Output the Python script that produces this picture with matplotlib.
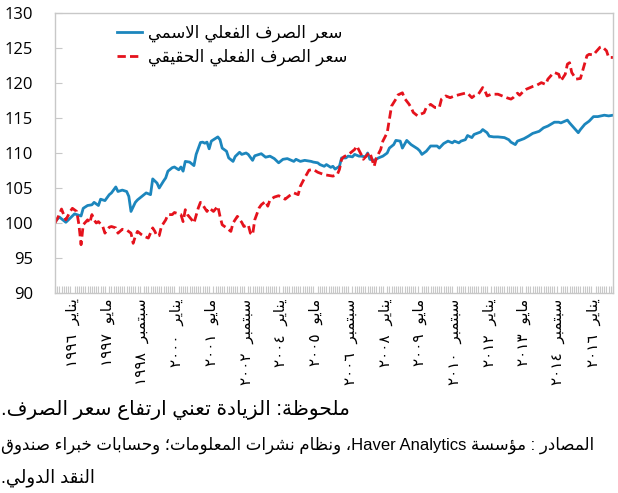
import matplotlib
matplotlib.use("Agg")
import matplotlib.pyplot as plt
from matplotlib.ticker import FixedLocator

# ---------------- data (month index since start of series) ----------------
nominal_months = [0, 2, 5, 7, 9, 12, 13, 15, 17, 18, 20, 21, 23, 25, 26, 28, 29, 31, 33, 34,
                  35, 37, 38, 41, 42, 44, 45, 47, 48, 50, 51, 52, 54, 55, 57, 58, 59, 60, 62, 64,
                  65, 67, 68, 69, 70, 71, 72, 73, 75, 76, 77, 79, 80, 82, 83, 85, 86, 88, 89, 91,
                  92, 94, 95, 97, 99, 101, 103, 105, 107, 110, 111, 113, 115, 118, 119, 121, 122, 124, 125, 127,
                  128, 129, 131, 132, 134, 135, 137, 138, 140, 141, 143, 144, 145, 147, 149, 151, 153, 154, 156, 157,
                  159, 160, 162, 164, 165, 167, 168, 169, 171, 173, 176, 177, 179, 181, 183, 184, 186, 187, 189, 190,
                  192, 193, 196, 197, 199, 200, 202, 204, 207, 209, 210, 212, 213, 216, 218, 220, 223, 225, 227, 230,
                  232, 233, 236, 237, 239, 241, 242, 244, 246, 248, 250, 253, 255, 257]
nominal_values = [100.2, 100.85, 100.1, 100.7, 101.3, 101.0, 102.1, 102.5, 102.6, 102.95, 102.5, 103.4, 103.2, 104.05, 104.3, 105.15, 104.5, 104.7, 104.5, 103.8,
                  101.65, 102.95, 103.3, 104.05, 104.3, 104.05, 106.3, 105.7, 105.0, 106.0, 106.45, 107.4, 107.9, 108.0, 107.6, 108.0, 107.4, 108.8, 108.7, 108.2,
                  109.8, 111.5, 111.55, 111.4, 111.55, 110.6, 111.7, 111.9, 112.3, 111.9, 110.7, 110.25, 109.3, 108.8, 109.5, 110.1, 109.8, 110.0, 109.8, 108.95,
                  109.6, 109.8, 109.9, 109.4, 109.55, 109.2, 108.6, 109.1, 109.2, 108.8, 109.1, 108.8, 108.95, 108.8, 108.7, 108.6, 108.35, 108.1, 108.35, 107.95,
                  108.1, 107.7, 108.1, 109.3, 109.3, 109.55, 109.45, 109.8, 109.55, 109.55, 109.45, 110.0, 109.1, 108.95, 109.3, 109.55, 110.0, 110.7, 111.2, 111.8,
                  111.7, 110.7, 111.8, 111.2, 111.0, 110.6, 110.3, 109.8, 110.25, 111.0, 111.0, 110.7, 111.35, 111.7, 111.45, 111.7, 111.45, 111.7, 111.9, 112.5,
                  112.2, 112.65, 113.0, 113.35, 112.9, 112.4, 112.3, 112.3, 112.2, 111.9, 111.55, 111.2, 111.7, 112.05, 112.4, 112.8, 113.1, 113.6, 113.85, 114.4,
                  114.4, 114.3, 114.7, 114.3, 113.6, 112.9, 113.35, 114.1, 114.55, 115.2, 115.2, 115.4, 115.3, 115.4]

real_months = [0, 2, 3, 4, 5, 7, 8, 10, 11, 12, 13, 15, 16, 17, 18, 19, 20, 22, 23, 25,
               26, 28, 29, 31, 33, 35, 36, 37, 38, 40, 41, 43, 45, 46, 47, 48, 49, 51, 52, 54,
               55, 58, 59, 60, 61, 63, 64, 66, 67, 68, 70, 71, 73, 75, 76, 77, 79, 81, 82, 84,
               86, 87, 89, 90, 91, 92, 94, 95, 97, 98, 99, 101, 103, 106, 108, 110, 112, 113, 115, 117,
               119, 121, 124, 126, 128, 130, 131, 132, 133, 135, 136, 138, 139, 141, 142, 144, 145, 146, 147, 148,
               150, 151, 153, 154, 155, 157, 158, 160, 161, 163, 164, 165, 167, 168, 170, 171, 173, 175, 177, 178,
               180, 182, 184, 187, 189, 190, 192, 193, 195, 197, 198, 199, 201, 204, 206, 208, 210, 211, 213, 214,
               216, 217, 220, 222, 224, 226, 227, 229, 230, 232, 233, 235, 236, 237, 238, 240, 242, 243, 245, 246,
               248, 249, 251, 252, 254, 255, 257]
real_values = [100.0, 101.2, 102.0, 101.2, 100.45, 101.65, 102.1, 101.65, 99.8, 96.9, 99.75, 100.45, 100.0, 101.2, 100.45, 100.0, 100.2, 99.5, 98.55, 99.4,
               99.5, 99.3, 98.55, 99.1, 99.0, 98.55, 97.1, 98.1, 98.8, 98.3, 98.1, 97.85, 99.3, 98.8, 98.1, 98.2, 99.5, 100.45, 101.2, 101.2,
               101.5, 101.2, 100.2, 101.9, 101.2, 100.45, 100.0, 102.15, 102.95, 102.6, 101.65, 102.15, 101.65, 102.4, 100.95, 99.75, 99.3, 98.8, 100.0, 100.95,
               100.1, 99.5, 99.75, 98.55, 98.3, 100.45, 102.15, 102.6, 103.1, 102.4, 103.3, 103.7, 103.9, 103.4, 103.9, 104.3, 104.05, 105.25, 106.45, 107.55,
               107.65, 107.25, 106.9, 106.8, 106.7, 106.9, 107.65, 109.1, 109.45, 109.8, 110.0, 110.5, 111.0, 109.8, 109.1, 109.8, 110.1, 109.1, 108.1, 109.3,
               110.5, 111.7, 112.9, 114.8, 116.7, 117.7, 118.3, 118.6, 117.8, 117.0, 116.5, 115.8, 115.3, 115.5, 115.75, 116.5, 116.95, 116.5, 116.5, 117.7,
               118.15, 117.9, 118.15, 118.4, 118.55, 118.55, 117.9, 118.15, 118.4, 119.35, 118.9, 118.15, 118.4, 118.4, 118.15, 117.9, 117.7, 117.9, 118.55, 118.25,
               118.9, 119.1, 119.5, 119.7, 120.05, 119.8, 120.55, 121.25, 121.5, 121.25, 120.3, 121.25, 122.7, 122.9, 121.5, 120.55, 120.65, 121.75, 123.9, 124.1,
               124.0, 124.4, 125.1, 125.2, 124.6, 123.65, 123.65]

tick_months = [8, 24, 40, 56, 72, 88, 104, 120, 136, 152, 168, 184, 200, 216, 232, 248]
tick_month_names = ["يناير", "مايو", "سبتمبر"] * 5 + ["يناير"]
tick_years = [1996, 1997, 1998, 2000, 2001, 2002, 2004, 2005, 2006, 2008, 2009, 2010, 2012, 2013, 2014, 2016]
y_ticks = [90, 95, 100, 105, 110, 115, 120, 125, 130]

legend_labels = ["سعر الصرف الفعلي الاسمي", "سعر الصرف الفعلي الحقيقي"]
note_lines = ["ملحوظة: الزيادة تعني ارتفاع سعر الصرف.",
              "المصادر : مؤسسة Haver Analytics، ونظام نشرات المعلومات؛ وحسابات خبراء صندوق",
              "النقد الدولي."]
n_months = 257

# ---------------- Arabic shaping helpers ----------------
_F = {
    '\u0621': ('\uFE80', None, None, None),
    '\u0622': ('\uFE81', '\uFE82', None, None),
    '\u0623': ('\uFE83', '\uFE84', None, None),
    '\u0624': ('\uFE85', '\uFE86', None, None),
    '\u0625': ('\uFE87', '\uFE88', None, None),
    '\u0626': ('\uFE89', '\uFE8A', '\uFE8B', '\uFE8C'),
    '\u0627': ('\uFE8D', '\uFE8E', None, None),
    '\u0628': ('\uFE8F', '\uFE90', '\uFE91', '\uFE92'),
    '\u0629': ('\uFE93', '\uFE94', None, None),
    '\u062A': ('\uFE95', '\uFE96', '\uFE97', '\uFE98'),
    '\u062B': ('\uFE99', '\uFE9A', '\uFE9B', '\uFE9C'),
    '\u062C': ('\uFE9D', '\uFE9E', '\uFE9F', '\uFEA0'),
    '\u062D': ('\uFEA1', '\uFEA2', '\uFEA3', '\uFEA4'),
    '\u062E': ('\uFEA5', '\uFEA6', '\uFEA7', '\uFEA8'),
    '\u062F': ('\uFEA9', '\uFEAA', None, None),
    '\u0630': ('\uFEAB', '\uFEAC', None, None),
    '\u0631': ('\uFEAD', '\uFEAE', None, None),
    '\u0632': ('\uFEAF', '\uFEB0', None, None),
    '\u0633': ('\uFEB1', '\uFEB2', '\uFEB3', '\uFEB4'),
    '\u0634': ('\uFEB5', '\uFEB6', '\uFEB7', '\uFEB8'),
    '\u0635': ('\uFEB9', '\uFEBA', '\uFEBB', '\uFEBC'),
    '\u0636': ('\uFEBD', '\uFEBE', '\uFEBF', '\uFEC0'),
    '\u0637': ('\uFEC1', '\uFEC2', '\uFEC3', '\uFEC4'),
    '\u0638': ('\uFEC5', '\uFEC6', '\uFEC7', '\uFEC8'),
    '\u0639': ('\uFEC9', '\uFECA', '\uFECB', '\uFECC'),
    '\u063A': ('\uFECD', '\uFECE', '\uFECF', '\uFED0'),
    '\u0641': ('\uFED1', '\uFED2', '\uFED3', '\uFED4'),
    '\u0642': ('\uFED5', '\uFED6', '\uFED7', '\uFED8'),
    '\u0643': ('\uFED9', '\uFEDA', '\uFEDB', '\uFEDC'),
    '\u0644': ('\uFEDD', '\uFEDE', '\uFEDF', '\uFEE0'),
    '\u0645': ('\uFEE1', '\uFEE2', '\uFEE3', '\uFEE4'),
    '\u0646': ('\uFEE5', '\uFEE6', '\uFEE7', '\uFEE8'),
    '\u0647': ('\uFEE9', '\uFEEA', '\uFEEB', '\uFEEC'),
    '\u0648': ('\uFEED', '\uFEEE', None, None),
    '\u0649': ('\uFEEF', '\uFEF0', None, None),
    '\u064A': ('\uFEF1', '\uFEF2', '\uFEF3', '\uFEF4'),
}
_LAM_ALEF = {'\u0627': ('\uFEFB', '\uFEFC', None, None),
             '\u0623': ('\uFEF7', '\uFEF8', None, None),
             '\u0625': ('\uFEF9', '\uFEFA', None, None),
             '\u0622': ('\uFEF5', '\uFEF6', None, None)}


def shape(s):
    items = []
    i = 0
    while i < len(s):
        c = s[i]
        if c == '\u0644' and i + 1 < len(s) and s[i + 1] in _LAM_ALEF:
            items.append((None, _LAM_ALEF[s[i + 1]]))
            i += 2
        else:
            items.append((c, _F.get(c)))
            i += 1
    out = []
    for k, (c, f) in enumerate(items):
        if f is None:
            out.append(c)
            continue
        prev = items[k - 1][1] if k > 0 else None
        nxt = items[k + 1][1] if k + 1 < len(items) else None
        jp = prev is not None and prev[2] is not None and f[1] is not None
        jn = f[2] is not None and nxt is not None
        if jp and jn:
            out.append(f[3])
        elif jp:
            out.append(f[1])
        elif jn:
            out.append(f[2])
        else:
            out.append(f[0])
    return ''.join(out)


def is_ltr(ch):
    return (ch.isascii() and ch.isalnum()) or ('\u0660' <= ch <= '\u0669')


def rtl(s):
    """Shape and reorder a logical Arabic string for left-to-right drawing."""
    sh = shape(s)
    kinds = ['L' if is_ltr(ch) else 'R' for ch in sh]
    for k in range(1, len(sh) - 1):
        if sh[k] == ' ' and kinds[k - 1] == 'L' and kinds[k + 1] == 'L':
            kinds[k] = 'L'
    runs = []
    for ch, kind in zip(sh, kinds):
        if runs and runs[-1][0] == kind:
            runs[-1][1].append(ch)
        else:
            runs.append([kind, [ch]])
    out = []
    for kind, chars in reversed(runs):
        out.append(''.join(chars) if kind == 'L' else ''.join(reversed(chars)))
    return ''.join(out)


AR_DIGITS = str.maketrans('0123456789', '٠١٢٣٤٥٦٧٨٩')

# ---------------- figure ----------------
plt.rcParams['font.family'] = ['DejaVu Sans']
fig = plt.figure(figsize=(6.18, 4.93), dpi=100)
ax = fig.add_axes([55 / 618, 1 - 293 / 493, 558 / 618, 280 / 493])

blue = '#1c86bd'
red = '#e5121c'
ax.plot(nominal_months, nominal_values, color=blue, lw=2.0, solid_joinstyle='round',
        label=rtl(legend_labels[0]))
ax.plot(real_months, real_values, color=red, lw=2.0, linestyle=(0, (3.0, 1.5)),
        label=rtl(legend_labels[1]))

ax.set_xlim(0, n_months)
ax.set_ylim(90, 130)
ax.set_yticks(y_ticks)
ax.set_yticklabels([str(v) for v in y_ticks], fontfamily='Open Sans', fontsize=12)

labels = [f"{str(y).translate(AR_DIGITS)}  {rtl(m)}" for m, y in zip(tick_month_names, tick_years)]
ax.xaxis.set_major_locator(FixedLocator(tick_months))
ax.set_xticklabels(labels, rotation=90, fontsize=11)
ax.xaxis.set_minor_locator(FixedLocator(list(range(0, n_months + 1))))

gray = '#c8c8c8'
for sp in ax.spines.values():
    sp.set_color(gray)
    sp.set_linewidth(1.0)
ax.tick_params(axis='y', direction='in', length=5, color=gray, pad=16)
ax.tick_params(axis='x', which='major', direction='in', length=0, pad=4)
ax.tick_params(axis='x', which='minor', direction='in', length=5, color=gray, width=0.8)

leg = ax.legend(loc='upper left', bbox_to_anchor=(0.1, 0.985), frameon=False,
                fontsize=12, handlelength=1.5, handletextpad=0.35, labelspacing=0.35,
                borderaxespad=0)

note_font = ['Liberation Sans', 'DejaVu Sans']
fig.text(0.002, 1 - 410 / 493, rtl(note_lines[0]), ha='left', va='center', fontsize=14.5, family=note_font)
fig.text(0.002, 1 - 445 / 493, rtl(note_lines[1]), ha='left', va='center', fontsize=12.0, family=note_font)
fig.text(0.002, 1 - 478 / 493, rtl(note_lines[2]), ha='left', va='center', fontsize=13, family=note_font)

fig.savefig('out.png', dpi=100)
